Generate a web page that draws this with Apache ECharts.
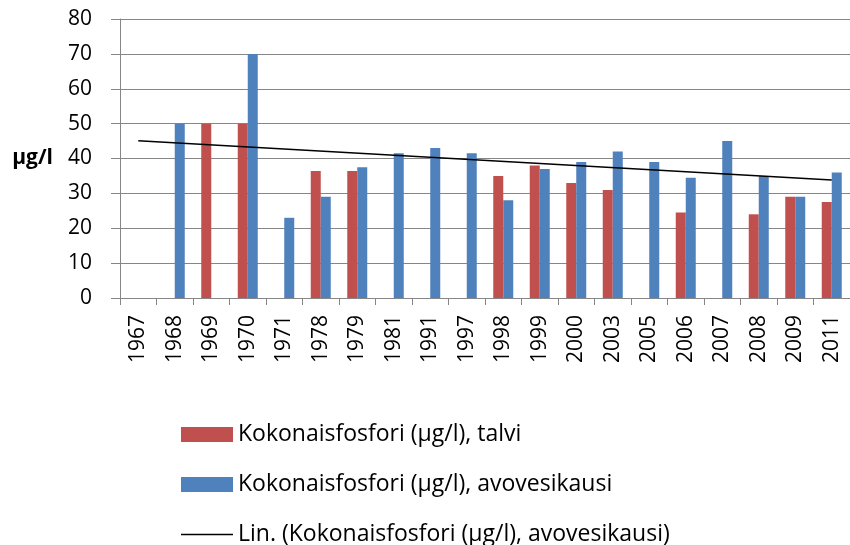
<!DOCTYPE html>
<html>
<head>
<meta charset="utf-8">
<script src="https://cdn.jsdelivr.net/npm/echarts@6/dist/echarts.min.js"></script>
<style>
  html, body { margin: 0; padding: 0; background: #fff; }
  #chart { width: 850px; height: 545px; }
</style>
</head>
<body>
<div id="chart"></div>
<script>
const years = ['1967', '1968', '1969', '1970', '1971', '1978', '1979', '1981', '1991', '1997',
  '1998', '1999', '2000', '2003', '2005', '2006', '2007', '2008', '2009', '2011'];

// talvi (winter)
const winter = [null, null, 50, 50, null, 36.4, 36.4, null, null, null,
  35, 38, 33, 31, null, 24.5, null, 24, 29, 27.5];

// avovesikausi (open water season)
const openWater = [null, 50, null, 70, 23, 29, 37.5, 41.5, 43, 41.5,
  28, 37, 39, 42, 39, 34.5, 45, 35, 29, 36];

// linear trend, read at both ends
const trend = [45.1, null, null, null, null, null, null, null, null, null,
  null, null, null, null, null, null, null, null, null, 33.8];

const nameWinter = 'Kokonaisfosfori (µg/l), talvi';
const nameOpen = 'Kokonaisfosfori (µg/l), avovesikausi';
const nameTrend = 'Lin. (Kokonaisfosfori (µg/l), avovesikausi)';

const chart = echarts.init(document.getElementById('chart'));
const font = 'Open Sans';

const option = {
  animation: false,
  textStyle: { fontFamily: font },
  grid: { left: 120, right: 0, top: 19, bottom: 247 },
  legend: {
    orient: 'vertical',
    left: 176,
    top: 418,
    height: 140,
    itemWidth: 52,
    itemHeight: 15,
    itemGap: 27,
    textStyle: { fontFamily: font, fontSize: 23, color: '#000' },
    data: [
      { name: nameWinter, icon: 'rect' },
      { name: nameOpen, icon: 'rect' },
      { name: nameTrend, icon: 'path://M0,0L52,0L52,1.5L0,1.5Z' }
    ]
  },
  xAxis: {
    type: 'category',
    data: years,
    axisLine: { lineStyle: { color: '#868686', width: 1 } },
    axisTick: { show: true, length: 7, lineStyle: { color: '#868686' } },
    axisLabel: { rotate: 90, margin: 17, fontSize: 21, color: '#000', fontFamily: font }
  },
  yAxis: {
    type: 'value',
    min: 0,
    max: 80,
    interval: 10,
    name: 'µg/l',
    nameLocation: 'middle',
    nameRotate: 0,
    nameGap: 67,
    nameTextStyle: { fontSize: 21, fontWeight: 'bold', color: '#000', align: 'right', fontFamily: font },
    axisLine: { show: true, lineStyle: { color: '#868686' } },
    axisTick: { show: true, length: 9, lineStyle: { color: '#868686' } },
    axisLabel: { margin: 28, fontSize: 21, color: '#000', fontFamily: font },
    splitLine: { lineStyle: { color: '#868686', width: 1 } }
  },
  series: [
    {
      name: nameWinter,
      type: 'bar',
      data: winter,
      barWidth: 10,
      barGap: '0%',
      itemStyle: { color: '#C0504D' }
    },
    {
      name: nameOpen,
      type: 'bar',
      data: openWater,
      barWidth: 10,
      barGap: '0%',
      itemStyle: { color: '#4F81BD' }
    },
    {
      name: nameTrend,
      type: 'line',
      data: trend,
      connectNulls: true,
      symbol: 'none',
      lineStyle: { color: '#000', width: 1.5 },
      itemStyle: { color: '#000' }
    }
  ]
};

chart.setOption(option);

window.addEventListener('resize', () => {
  chart.resize();
});
</script>
</body>
</html>
